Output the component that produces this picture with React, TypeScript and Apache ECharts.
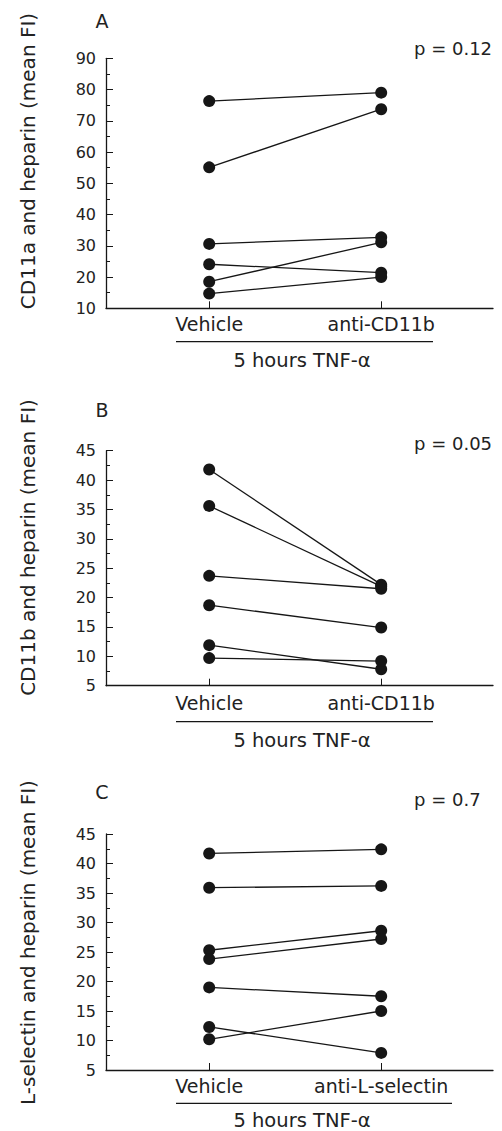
import React, { useEffect, useRef } from "react";
import * as echarts from "echarts";

// ---- Data ----
const panelLetters = ["A", "B", "C"];
const pValues = ["p = 0.12", "p = 0.05", "p = 0.7"];
const yNames = [
  "CD11a and heparin (mean FI)",
  "CD11b and heparin (mean FI)",
  "L-selectin and heparin (mean FI)",
];
const categoriesA = ["Vehicle", "anti-CD11b"];
const categoriesB = ["Vehicle", "anti-CD11b"];
const categoriesC = ["Vehicle", "anti-L-selectin"];
const groupLabel = "5 hours TNF-\u03b1";

const vehicleA = [76.3, 55.1, 30.6, 24.1, 18.5, 14.7];
const antiA = [79.0, 73.7, 32.7, 21.4, 31.1, 20.0];

const vehicleB = [41.8, 35.6, 23.7, 18.7, 11.9, 9.7];
const antiB = [22.2, 21.9, 21.5, 14.9, 7.8, 9.2];

const vehicleC = [41.7, 35.9, 25.3, 23.8, 19.0, 12.3, 10.2];
const antiC = [42.4, 36.2, 28.6, 27.2, 17.5, 7.9, 15.0];

const yRanges = [
  { min: 10, max: 90, interval: 10 },
  { min: 5, max: 45, interval: 5 },
  { min: 5, max: 45, interval: 5 },
];

// ---- Layout ----
const FONT = "DejaVu Sans";
const TXT = "#222";
const INK = "#161616";
const gridLeft = 106;
const gridRight = 9;
const grids = [
  { top: 58.3, height: 250 },
  { top: 450.7, height: 235 },
  { top: 834, height: 236 },
];
const layout = [
  { letterY: 21, pY: 48.5, yNameY: 161, labelMargin: 6, lineY: 341.7, groupY: 360, lineX2: 433 },
  { letterY: 410, pY: 443, yNameY: 547.5, labelMargin: 8, lineY: 721.7, groupY: 740, lineX2: 433 },
  { letterY: 791.7, pY: 799.3, yNameY: 942.5, labelMargin: 6, lineY: 1103.3, groupY: 1120.5, lineX2: 452 },
];

export default function App() {
  const ref = useRef<HTMLDivElement>(null);

  useEffect(() => {
    document.body.style.margin = "0";
    if (!ref.current) return;
    const chart = echarts.init(ref.current, undefined, { renderer: "svg" });

    const cats = [categoriesA, categoriesB, categoriesC];
    const pairs = [
      [vehicleA, antiA],
      [vehicleB, antiB],
      [vehicleC, antiC],
    ];

    const xAxis = cats.map((c, i) => ({
      type: "value",
      gridIndex: i,
      min: -0.6,
      max: 1.65,
      axisLine: { show: true, onZero: false, lineStyle: { color: INK, width: 1.3 } },
      axisTick: {
        show: true,
        inside: true,
        length: 7,
        customValues: [0, 1],
        lineStyle: { color: INK, width: 1 },
      },
      axisLabel: {
        show: true,
        customValues: [0, 1],
        margin: layout[i].labelMargin,
        color: TXT,
        fontFamily: FONT,
        fontSize: 19,
        formatter: (v: number) => c[Math.round(v)] ?? "",
      },
      splitLine: { show: false },
    }));

    const yAxis = yRanges.map((r, i) => ({
      type: "value",
      gridIndex: i,
      min: r.min,
      max: r.max,
      interval: r.interval,
      axisLine: { show: true, onZero: false, lineStyle: { color: INK, width: 1.3 } },
      axisTick: { show: true, inside: true, length: 7, lineStyle: { color: INK, width: 1 } },
      minorTick: { show: true, splitNumber: 2, length: 4, lineStyle: { color: INK, width: 1 } },
      axisLabel: { margin: 10, color: TXT, fontFamily: FONT, fontSize: 16 },
      splitLine: { show: false },
      minorSplitLine: { show: false },
    }));

    const series: any[] = [];
    pairs.forEach(([veh, anti], gi) => {
      veh.forEach((v, k) => {
        series.push({
          type: "line",
          xAxisIndex: gi,
          yAxisIndex: gi,
          data: [
            [0, v],
            [1, anti[k]],
          ],
          symbol: "circle",
          symbolSize: 12,
          lineStyle: { color: INK, width: 1.3 },
          itemStyle: { color: INK },
          silent: true,
        });
      });
    });

    const graphic: any[] = [];
    layout.forEach((L, i) => {
      graphic.push({
        type: "text",
        x: 102,
        y: L.letterY,
        style: { text: panelLetters[i], fill: TXT, font: `19px "${FONT}"`, align: "center", verticalAlign: "middle" },
      });
      graphic.push({
        type: "text",
        x: 414,
        y: L.pY,
        style: { text: pValues[i], fill: TXT, font: `18px "${FONT}"`, align: "left", verticalAlign: "middle" },
      });
      graphic.push({
        type: "text",
        x: 28,
        y: L.yNameY,
        rotation: Math.PI / 2,
        style: { text: yNames[i], fill: TXT, font: `20px "${FONT}"`, align: "center", verticalAlign: "middle" },
      });
      graphic.push({
        type: "line",
        shape: { x1: 176, y1: L.lineY, x2: L.lineX2, y2: L.lineY },
        style: { stroke: INK, lineWidth: 1.2 },
      });
      graphic.push({
        type: "text",
        x: 302,
        y: L.groupY,
        style: { text: groupLabel, fill: TXT, font: `19.5px "${FONT}"`, align: "center", verticalAlign: "middle" },
      });
    });

    chart.setOption({
      animation: false,
      backgroundColor: "#ffffff",
      grid: grids.map((g) => ({ left: gridLeft, right: gridRight, top: g.top, height: g.height, containLabel: false })),
      xAxis,
      yAxis,
      series,
      graphic,
    });

    return () => chart.dispose();
  }, []);

  return <div ref={ref} style={{ width: 502, height: 1131 }} />;
}
